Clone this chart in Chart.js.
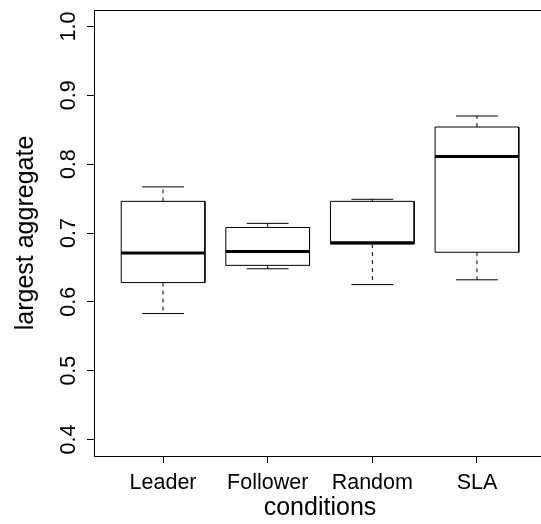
<!DOCTYPE html>
<html><head><meta charset="utf-8">
<script src="https://cdn.jsdelivr.net/npm/chart.js@4"></script>
<style>html,body{margin:0;padding:0;background:#fff;overflow:hidden}#wrap{width:560px;height:524px}</style>
</head><body><div id="wrap"><canvas id="c" width="560" height="524"></canvas></div>
<script>
const categories = ['Leader', 'Follower', 'Random', 'SLA'];
const whiskerLow = [0.583, 0.648, 0.625, 0.632];
const quartile1 = [0.628, 0.653, 0.684, 0.672];
const medians = [0.671, 0.673, 0.686, 0.811];
const quartile3 = [0.746, 0.708, 0.746, 0.854];
const whiskerHigh = [0.767, 0.714, 0.749, 0.870];
const yTicks = [0.4, 0.5, 0.6, 0.7, 0.8, 0.9, 1.0];

const FONT = "'Liberation Sans', Arial, Helvetica, sans-serif";
const BOX_HALF = 0.4, CAP_HALF = 0.2;

const boxPts = [], medPts = [], whiskPts = [], capPts = [];
categories.forEach((c, i) => {
  const x = i + 1;
  boxPts.push({x: x - BOX_HALF, y: quartile1[i]}, {x: x - BOX_HALF, y: quartile3[i]},
              {x: x + BOX_HALF, y: quartile3[i]}, {x: x + BOX_HALF, y: quartile1[i]},
              {x: x - BOX_HALF, y: quartile1[i]}, {x: x, y: null});
  medPts.push({x: x - BOX_HALF, y: medians[i]}, {x: x + BOX_HALF, y: medians[i]}, {x: x, y: null});
  whiskPts.push({x: x, y: quartile3[i]}, {x: x, y: whiskerHigh[i]}, {x: x, y: null},
                {x: x, y: quartile1[i]}, {x: x, y: whiskerLow[i]}, {x: x, y: null});
  capPts.push({x: x - CAP_HALF, y: whiskerHigh[i]}, {x: x + CAP_HALF, y: whiskerHigh[i]}, {x: x, y: null},
              {x: x - CAP_HALF, y: whiskerLow[i]}, {x: x + CAP_HALF, y: whiskerLow[i]}, {x: x, y: null});
});

const lineDs = (data, width, dash) => ({
  data, borderColor: '#000', borderWidth: width, borderDash: dash || [],
  pointRadius: 0, fill: false, spanGaps: false, tension: 0, showLine: true, borderCapStyle: 'butt'
});

const framePlugin = {
  id: 'frame',
  afterDraw(chart) {
    const {ctx, chartArea: a, scales: {y}} = chart;
    ctx.save();
    ctx.strokeStyle = '#000';
    ctx.lineWidth = 1;
    ctx.beginPath();
    const t = Math.round(a.top) + 0.5, r = Math.round(a.right) + 0.5;
    ctx.moveTo(a.left, t); ctx.lineTo(r, t); ctx.lineTo(r, a.bottom);
    ctx.stroke();
    ctx.fillStyle = '#000';
    ctx.font = '21.5px ' + FONT;
    ctx.textAlign = 'center';
    ctx.textBaseline = 'alphabetic';
    yTicks.forEach(v => {
      const py = y.getPixelForValue(v);
      ctx.save();
      ctx.translate(75, py);
      ctx.rotate(-Math.PI / 2);
      ctx.fillText(v.toFixed(1), 0, 0);
      ctx.restore();
    });
    ctx.restore();
  }
};

new Chart(document.getElementById('c'), {
  type: 'scatter',
  data: {datasets: [
    lineDs(boxPts, 1),
    lineDs(whiskPts, 1, [4, 4]),
    lineDs(capPts, 1),
    lineDs(medPts, 3)
  ]},
  options: {
    responsive: false, animation: false, devicePixelRatio: 1,
    layout: {padding: {left: 0, top: 10, right: 14, bottom: 0}},
    plugins: {legend: {display: false}, tooltip: {enabled: false}},
    scales: {
      x: {
        type: 'linear', min: 0.34, max: 4.66,
        afterBuildTicks: s => { s.ticks = categories.map((c, i) => ({value: i + 1})); },
        afterFit: s => { s.height = 68; },
        ticks: {callback: (v, i) => categories[i], color: '#000', padding: 7, autoSkip: false,
                maxRotation: 0, minRotation: 0, font: {family: FONT, size: 21.5}},
        grid: {drawOnChartArea: false, drawTicks: true, tickLength: 7, color: '#000', tickColor: '#000', tickWidth: 1},
        border: {display: true, color: '#000', width: 1},
        title: {display: true, text: 'conditions', color: '#000', font: {family: FONT, size: 25},
                padding: {top: 0, bottom: 1}}
      },
      y: {
        type: 'linear', min: 0.376, max: 1.024,
        afterBuildTicks: s => { s.ticks = yTicks.map(v => ({value: v})); },
        afterFit: s => { s.width = 94; },
        ticks: {display: false},
        grid: {drawOnChartArea: false, drawTicks: true, tickLength: 7, color: '#000', tickColor: '#000', tickWidth: 1},
        border: {display: true, color: '#000', width: 1},
        title: {display: true, text: 'largest aggregate', color: '#000', font: {family: FONT, size: 25},
                padding: {top: 11, bottom: 0}}
      }
    }
  },
  plugins: [framePlugin]
});
</script>
</body></html>
